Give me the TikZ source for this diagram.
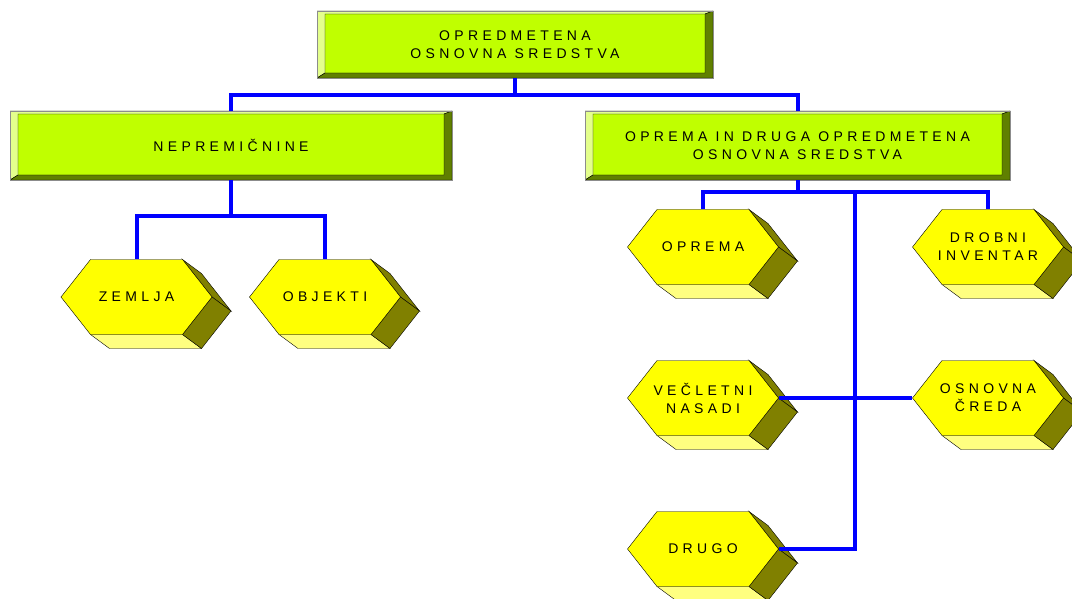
\documentclass[tikz,border=0pt]{standalone}
\usepackage{xcolor}
\usepackage{fontspec}
\usepackage{tikz}
\usetikzlibrary{arrows.meta}
\usetikzlibrary{positioning, calc}
\newfontfamily\boxfont[LetterSpace = 31]{Liberation Sans}
\definecolor{lime face}{RGB}{192, 255, 0}
\definecolor{bevel light}{RGB}{228, 255, 140}
\definecolor{bevel dark}{RGB}{96, 128, 0}
\definecolor{hex face}{RGB}{255, 255, 0}
\definecolor{hex bottom}{RGB}{255, 255, 128}
\definecolor{hex side}{RGB}{128, 128, 0}
\definecolor{link blue}{RGB}{0, 0, 255}
\tikzset{
link/.style = { draw = link blue, line width = 4pt },
caption text/.style = { font = \boxfont\fontsize{14}{18}\selectfont, align = center, text = black },
bevel box/.style = { rectangle, draw = black!45, fill = lime face, caption text,
    path picture = {
        \path[draw = black, line width = 0.4pt, fill = bevel light] (path picture bounding box.south west) -- (path picture bounding box.north west) -- (path picture bounding box.north east) -- ([shift = {(-8, 3)}]path picture bounding box.north east) -- ([shift = {(8, 3)}]path picture bounding box.north west) -- ([shift = {(8, -5)}]path picture bounding box.south west) -- cycle;
        \path[draw = black, line width = 0.4pt, fill = bevel dark] (path picture bounding box.south west) -- (path picture bounding box.south east) -- (path picture bounding box.north east) -- ([shift = {(-8, 3)}]path picture bounding box.north east) -- ([shift = {(-8, -5)}]path picture bounding box.south east) -- ([shift = {(8, -5)}]path picture bounding box.south west) -- cycle;
        }
    },
}
\tikzset{
pics/hexa/.style = {
        code = {
        \path[draw = black, fill = hex bottom] (-46, 37.5) -- (46, 37.5) -- (65, 51.5) -- (-27, 51.5) -- cycle;
        \path[draw = black, fill = hex side] (46, -37.5) -- (75.5, 0) -- (94.5, 14) -- (65, -23.5) -- cycle;
        \path[draw = black, fill = hex side] (75.5, 0) -- (46, 37.5) -- (65, 51.5) -- (94.5, 14) -- cycle;
        \path[draw = black, fill = hex face] (-75.5, 0) -- (-46, -37.5) -- (46, -37.5) -- (75.5, 0) -- (46, 37.5) -- (-46, 37.5) -- cycle;
        \node[caption text, minimum width = 151pt, minimum height = 75pt, inner sep = 0pt] (-f) at (0, 0) {#1};
        }
    },
}

\begin{document}
\begin{tikzpicture}[x = 1pt, y = -1pt]
      \useasboundingbox (0, 0) rectangle (1072, 599);
      \node[bevel box, minimum width = 396pt, minimum height = 67pt] (os) at (515, 44.5) {OPREDMETENA\\OSNOVNA SREDSTVA};
      \node[bevel box, minimum width = 442pt, minimum height = 69pt] (nep) at (231, 145.5) {NEPREMIČNINE};
      \node[bevel box, minimum width = 425pt, minimum height = 69pt] (opr) at (797.5, 145.5) {OPREMA IN DRUGA OPREDMETENA\\OSNOVNA SREDSTVA};

      \pic (zemlja) at (136.5, 297) {hexa = ZEMLJA};
      \pic (objekti) at (325, 297) {hexa = OBJEKTI};
      \pic (oprema) at (703, 247) {hexa = OPREMA};
      \pic (drobni) at (988, 247) {hexa = {DROBNI\\INVENTAR}};
      \pic (nasadi) at (703, 398) {hexa = {VEČLETNI\\NASADI}};
      \pic (creda) at (988, 398) {hexa = {OSNOVNA\\ČREDA}};
      \pic (drugo) at (703, 549) {hexa = DRUGO};

      \coordinate (trunk) at ($(opr.south) + (57, 12)$);
      \begin{scope}[every path/.style = {link}]
        \draw (os.south) -- ++(0, 17) -| (nep.north);
        \draw (os.south) -- ++(0, 17) -| (opr.north);
        \draw (nep.south) -- ++(0, 36) -| (zemlja-f.north);
        \draw (nep.south) -- ++(0, 36) -| (objekti-f.north);
        \draw (opr.south) -- ++(0, 12) -| (oprema-f.north);
        \draw (opr.south) -- ++(0, 12) -| (drobni-f.north);
        \draw (trunk) |- (drugo-f.east);
        \draw (nasadi-f.east) -- (creda-f.west);
      \end{scope}
    \end{tikzpicture}
\end{document}
